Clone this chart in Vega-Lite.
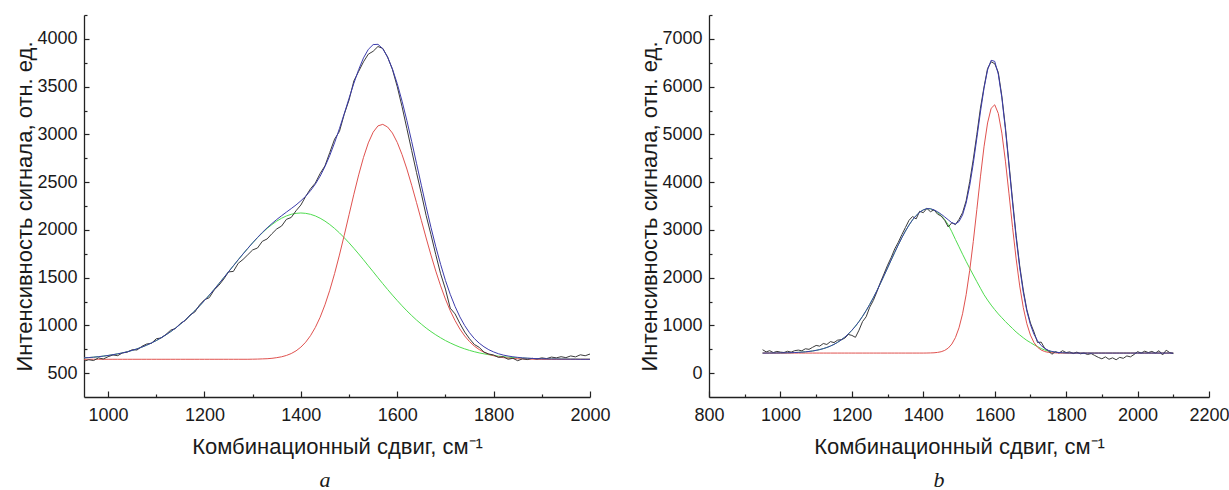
{
"$schema": "https://vega.github.io/schema/vega-lite/v6.json",
"padding": {"left": 13, "top": 14, "right": 0, "bottom": 0},
"background": "white",
"spacing": 27,
"config": {
  "view": {"stroke": null},
  "font": "Liberation Sans",
  "axis": {"grid": false, "domainColor": "#222222", "domainWidth": 1.3, "tickColor": "#222222", "tickWidth": 1.2, "labelFont": "Liberation Sans", "labelFontSize": 18, "labelColor": "#1a1a1a", "labelFlush": false, "labelOverlap": false, "titleFont": "Liberation Sans", "titleFontSize": 22, "titleFontWeight": "normal", "titleColor": "#1a1a1a"},
  "line": {"strokeWidth": 1}
},
"datasets": {
"a": [
{"x":950,"e":625,"f":660,"g":660,"r":645},{"x":960,"e":640,"f":663,"g":663,"r":645},{"x":970,"e":632,"f":667,"g":667,"r":645},{"x":980,"e":660,"f":672,"g":672,"r":645},{"x":990,"e":648,"f":678,"g":678,"r":645},
{"x":1000,"e":672,"f":685,"g":685,"r":645},{"x":1010,"e":690,"f":693,"g":693,"r":645},{"x":1020,"e":683,"f":702,"g":702,"r":645},{"x":1030,"e":712,"f":712,"g":712,"r":645},{"x":1040,"e":720,"f":724,"g":724,"r":645},
{"x":1050,"e":745,"f":738,"g":738,"r":645},{"x":1060,"e":742,"f":754,"g":754,"r":645},{"x":1070,"e":780,"f":772,"g":772,"r":645},{"x":1080,"e":805,"f":793,"g":793,"r":645},{"x":1090,"e":812,"f":816,"g":816,"r":645},
{"x":1100,"e":860,"f":841,"g":841,"r":645},{"x":1110,"e":868,"f":870,"g":870,"r":645},{"x":1120,"e":905,"f":901,"g":901,"r":645},{"x":1130,"e":950,"f":935,"g":935,"r":645},{"x":1140,"e":968,"f":972,"g":972,"r":645},
{"x":1150,"e":1020,"f":1013,"g":1013,"r":645},{"x":1160,"e":1050,"f":1056,"g":1056,"r":645},{"x":1170,"e":1108,"f":1103,"g":1103,"r":645},{"x":1180,"e":1140,"f":1152,"g":1152,"r":645},{"x":1190,"e":1215,"f":1205,"g":1205,"r":645},
{"x":1200,"e":1268,"f":1260,"g":1260,"r":645},{"x":1210,"e":1290,"f":1317,"g":1317,"r":645},{"x":1220,"e":1370,"f":1376,"g":1376,"r":645},{"x":1230,"e":1420,"f":1437,"g":1437,"r":645},{"x":1240,"e":1485,"f":1499,"g":1499,"r":645},
{"x":1250,"e":1560,"f":1562,"g":1562,"r":645},{"x":1260,"e":1565,"f":1624,"g":1624,"r":645},{"x":1270,"e":1650,"f":1687,"g":1687,"r":645},{"x":1280,"e":1690,"f":1748,"g":1748,"r":645},{"x":1290,"e":1740,"f":1807,"g":1807,"r":645},
{"x":1300,"e":1790,"f":1865,"g":1864,"r":646},{"x":1310,"e":1810,"f":1920,"g":1918,"r":647},{"x":1320,"e":1880,"f":1973,"g":1969,"r":649},{"x":1330,"e":1905,"f":2021,"g":2015,"r":651},{"x":1340,"e":1960,"f":2066,"g":2056,"r":655},
{"x":1350,"e":2010,"f":2109,"g":2092,"r":662},{"x":1360,"e":2040,"f":2148,"g":2122,"r":671},{"x":1370,"e":2110,"f":2186,"g":2146,"r":685},{"x":1380,"e":2130,"f":2223,"g":2163,"r":705},{"x":1390,"e":2200,"f":2261,"g":2173,"r":733},
{"x":1400,"e":2260,"f":2304,"g":2177,"r":772},{"x":1410,"e":2350,"f":2352,"g":2173,"r":824},{"x":1420,"e":2430,"f":2410,"g":2163,"r":892},{"x":1430,"e":2490,"f":2479,"g":2146,"r":978},{"x":1440,"e":2590,"f":2562,"g":2122,"r":1085},
{"x":1450,"e":2670,"f":2662,"g":2092,"r":1215},{"x":1460,"e":2810,"f":2779,"g":2056,"r":1368},{"x":1470,"e":2950,"f":2912,"g":2015,"r":1542},{"x":1480,"e":3030,"f":3060,"g":1969,"r":1736},{"x":1490,"e":3210,"f":3216,"g":1918,"r":1943},
{"x":1500,"e":3360,"f":3378,"g":1864,"r":2159},{"x":1510,"e":3560,"f":3535,"g":1807,"r":2373},{"x":1520,"e":3660,"f":3679,"g":1748,"r":2576},{"x":1530,"e":3760,"f":3801,"g":1687,"r":2759},{"x":1540,"e":3840,"f":3890,"g":1624,"r":2911},
{"x":1550,"e":3870,"f":3940,"g":1562,"r":3023},{"x":1560,"e":3920,"f":3943,"g":1499,"r":3089},{"x":1570,"e":3900,"f":3897,"g":1437,"r":3105},{"x":1580,"e":3810,"f":3808,"g":1376,"r":3077},{"x":1590,"e":3680,"f":3686,"g":1317,"r":3014},
{"x":1600,"e":3500,"f":3531,"g":1260,"r":2916},{"x":1610,"e":3290,"f":3348,"g":1205,"r":2788},{"x":1620,"e":3060,"f":3144,"g":1152,"r":2637},{"x":1630,"e":2830,"f":2925,"g":1103,"r":2467},{"x":1640,"e":2600,"f":2697,"g":1056,"r":2286},
{"x":1650,"e":2380,"f":2468,"g":1013,"r":2100},{"x":1660,"e":2150,"f":2242,"g":972,"r":1915},{"x":1670,"e":1950,"f":2026,"g":935,"r":1736},{"x":1680,"e":1740,"f":1824,"g":901,"r":1568},{"x":1690,"e":1540,"f":1639,"g":870,"r":1414},
{"x":1700,"e":1380,"f":1471,"g":841,"r":1275},{"x":1710,"e":1180,"f":1325,"g":816,"r":1154},{"x":1720,"e":1120,"f":1198,"g":793,"r":1050},{"x":1730,"e":1020,"f":1089,"g":772,"r":962},{"x":1740,"e":930,"f":998,"g":754,"r":889},
{"x":1750,"e":860,"f":923,"g":738,"r":830},{"x":1760,"e":800,"f":862,"g":724,"r":783},{"x":1770,"e":770,"f":814,"g":712,"r":747},{"x":1780,"e":720,"f":776,"g":702,"r":719},{"x":1790,"e":700,"f":745,"g":693,"r":697},
{"x":1800,"e":690,"f":722,"g":685,"r":682},{"x":1810,"e":665,"f":703,"g":678,"r":670},{"x":1820,"e":672,"f":689,"g":672,"r":662},{"x":1830,"e":645,"f":679,"g":667,"r":657},{"x":1840,"e":655,"f":671,"g":663,"r":653},
{"x":1850,"e":630,"f":665,"g":660,"r":650},{"x":1860,"e":650,"f":660,"g":657,"r":648},{"x":1870,"e":642,"f":657,"g":655,"r":647},{"x":1880,"e":655,"f":654,"g":653,"r":646},{"x":1890,"e":648,"f":651,"g":651,"r":645},
{"x":1900,"e":660,"f":650,"g":650,"r":645},{"x":1910,"e":652,"f":649,"g":649,"r":645},{"x":1920,"e":668,"f":648,"g":648,"r":645},{"x":1930,"e":660,"f":648,"g":648,"r":645},{"x":1940,"e":672,"f":647,"g":647,"r":645},
{"x":1950,"e":662,"f":647,"g":647,"r":645},{"x":1960,"e":680,"f":646,"g":646,"r":645},{"x":1970,"e":670,"f":646,"g":646,"r":645},{"x":1980,"e":692,"f":645,"g":645,"r":645},{"x":1990,"e":682,"f":645,"g":645,"r":645},
{"x":2000,"e":700,"f":645,"g":645,"r":645}
],
"b": [
{"x":950,"e":490,"f":420,"g":420,"r":420},{"x":960,"e":445,"f":420,"g":420,"r":420},{"x":970,"e":470,"f":421,"g":421,"r":420},{"x":980,"e":430,"f":421,"g":421,"r":420},{"x":990,"e":455,"f":422,"g":422,"r":420},
{"x":1000,"e":440,"f":423,"g":423,"r":420},{"x":1010,"e":432,"f":424,"g":424,"r":420},{"x":1020,"e":458,"f":426,"g":426,"r":420},{"x":1030,"e":440,"f":428,"g":428,"r":420},{"x":1040,"e":470,"f":431,"g":431,"r":420},
{"x":1050,"e":482,"f":435,"g":435,"r":420},{"x":1060,"e":468,"f":440,"g":440,"r":420},{"x":1070,"e":510,"f":446,"g":446,"r":420},{"x":1080,"e":498,"f":454,"g":454,"r":420},{"x":1090,"e":540,"f":464,"g":464,"r":420},
{"x":1100,"e":580,"f":477,"g":477,"r":420},{"x":1110,"e":565,"f":493,"g":493,"r":420},{"x":1120,"e":620,"f":513,"g":513,"r":420},{"x":1130,"e":600,"f":537,"g":537,"r":420},{"x":1140,"e":660,"f":567,"g":567,"r":420},
{"x":1150,"e":640,"f":602,"g":602,"r":420},{"x":1160,"e":690,"f":645,"g":645,"r":420},{"x":1170,"e":700,"f":694,"g":694,"r":420},{"x":1180,"e":730,"f":752,"g":752,"r":420},{"x":1190,"e":810,"f":819,"g":819,"r":420},
{"x":1200,"e":790,"f":896,"g":896,"r":420},{"x":1210,"e":750,"f":983,"g":983,"r":420},{"x":1220,"e":900,"f":1081,"g":1081,"r":420},{"x":1230,"e":1080,"f":1190,"g":1190,"r":420},{"x":1240,"e":1180,"f":1309,"g":1309,"r":420},
{"x":1250,"e":1380,"f":1439,"g":1439,"r":420},{"x":1260,"e":1520,"f":1577,"g":1577,"r":420},{"x":1270,"e":1700,"f":1725,"g":1725,"r":420},{"x":1280,"e":1900,"f":1880,"g":1880,"r":420},{"x":1290,"e":2080,"f":2040,"g":2040,"r":420},
{"x":1300,"e":2260,"f":2203,"g":2203,"r":420},{"x":1310,"e":2420,"f":2367,"g":2367,"r":420},{"x":1320,"e":2600,"f":2529,"g":2529,"r":420},{"x":1330,"e":2740,"f":2686,"g":2686,"r":420},{"x":1340,"e":2900,"f":2836,"g":2836,"r":420},
{"x":1350,"e":3050,"f":2975,"g":2975,"r":420},{"x":1360,"e":3200,"f":3101,"g":3101,"r":420},{"x":1370,"e":3280,"f":3210,"g":3210,"r":420},{"x":1380,"e":3230,"f":3301,"g":3301,"r":420},{"x":1390,"e":3390,"f":3371,"g":3371,"r":420},
{"x":1400,"e":3360,"f":3419,"g":3419,"r":420},{"x":1410,"e":3450,"f":3445,"g":3444,"r":421},{"x":1420,"e":3380,"f":3443,"g":3440,"r":423},{"x":1430,"e":3420,"f":3418,"g":3412,"r":426},{"x":1440,"e":3330,"f":3379,"g":3365,"r":434},
{"x":1450,"e":3290,"f":3328,"g":3300,"r":448},{"x":1460,"e":3200,"f":3271,"g":3215,"r":476},{"x":1470,"e":3060,"f":3210,"g":3105,"r":525},{"x":1480,"e":3150,"f":3149,"g":2960,"r":609},{"x":1490,"e":3110,"f":3124,"g":2800,"r":744},
{"x":1500,"e":3220,"f":3174,"g":2645,"r":949},{"x":1510,"e":3360,"f":3313,"g":2490,"r":1243},{"x":1520,"e":3610,"f":3563,"g":2340,"r":1643},{"x":1530,"e":4010,"f":3926,"g":2195,"r":2151},{"x":1540,"e":4480,"f":4392,"g":2055,"r":2757},
{"x":1550,"e":5000,"f":4922,"g":1915,"r":3427},{"x":1560,"e":5550,"f":5468,"g":1778,"r":4110},{"x":1570,"e":5990,"f":5962,"g":1643,"r":4739},{"x":1580,"e":6380,"f":6349,"g":1530,"r":5239},{"x":1590,"e":6520,"f":6551,"g":1425,"r":5546},
{"x":1600,"e":6480,"f":6530,"g":1330,"r":5620},{"x":1610,"e":6300,"f":6259,"g":1240,"r":5439},{"x":1620,"e":5800,"f":5766,"g":1160,"r":5026},{"x":1630,"e":5150,"f":5099,"g":1080,"r":4439},{"x":1640,"e":4380,"f":4339,"g":1005,"r":3754},
{"x":1650,"e":3620,"f":3565,"g":935,"r":3050},{"x":1660,"e":2880,"f":2832,"g":860,"r":2392},{"x":1670,"e":2250,"f":2206,"g":800,"r":1826},{"x":1680,"e":1740,"f":1693,"g":740,"r":1373},{"x":1690,"e":1330,"f":1299,"g":685,"r":1034},
{"x":1700,"e":1050,"f":1016,"g":640,"r":796},{"x":1710,"e":860,"f":813,"g":594,"r":639},{"x":1720,"e":640,"f":676,"g":555,"r":541},{"x":1730,"e":650,"f":579,"g":515,"r":484},{"x":1740,"e":520,"f":517,"g":485,"r":452},
{"x":1750,"e":470,"f":477,"g":462,"r":435},{"x":1760,"e":395,"f":454,"g":447,"r":427},{"x":1770,"e":450,"f":440,"g":437,"r":423},{"x":1780,"e":420,"f":431,"g":430,"r":421},{"x":1790,"e":470,"f":426,"g":426,"r":420},
{"x":1800,"e":430,"f":423,"g":423,"r":420},{"x":1810,"e":445,"f":421,"g":421,"r":420},{"x":1820,"e":410,"f":420,"g":420,"r":420},{"x":1830,"e":440,"f":420,"g":420,"r":420},{"x":1840,"e":405,"f":420,"g":420,"r":420},
{"x":1850,"e":420,"f":420,"g":420,"r":420},{"x":1860,"e":390,"f":420,"g":420,"r":420},{"x":1870,"e":410,"f":420,"g":420,"r":420},{"x":1880,"e":370,"f":420,"g":420,"r":420},{"x":1890,"e":330,"f":420,"g":420,"r":420},
{"x":1900,"e":300,"f":420,"g":420,"r":420},{"x":1910,"e":340,"f":420,"g":420,"r":420},{"x":1920,"e":290,"f":420,"g":420,"r":420},{"x":1930,"e":320,"f":420,"g":420,"r":420},{"x":1940,"e":280,"f":420,"g":420,"r":420},
{"x":1950,"e":330,"f":420,"g":420,"r":420},{"x":1960,"e":310,"f":420,"g":420,"r":420},{"x":1970,"e":360,"f":420,"g":420,"r":420},{"x":1980,"e":340,"f":420,"g":420,"r":420},{"x":1990,"e":390,"f":420,"g":420,"r":420},
{"x":2000,"e":450,"f":420,"g":420,"r":420},{"x":2010,"e":420,"f":420,"g":420,"r":420},{"x":2020,"e":460,"f":420,"g":420,"r":420},{"x":2030,"e":430,"f":420,"g":420,"r":420},{"x":2040,"e":455,"f":420,"g":420,"r":420},
{"x":2050,"e":420,"f":420,"g":420,"r":420},{"x":2060,"e":470,"f":420,"g":420,"r":420},{"x":2070,"e":380,"f":420,"g":420,"r":420},{"x":2080,"e":480,"f":420,"g":420,"r":420},{"x":2090,"e":430,"f":420,"g":420,"r":420},
{"x":2100,"e":410,"f":420,"g":420,"r":420}
]
},
"hconcat": [
{
  "width": 506, "height": 382,
  "data": {"name": "a"},
  "title": {"text": "a", "orient": "bottom", "font": "Liberation Serif", "fontStyle": "italic", "fontWeight": "normal", "fontSize": 22, "offset": 13, "dx": -12, "frame": "group", "anchor": "middle", "color": "#1a1a1a"},
  "resolve": {"axis": {"x": "independent", "y": "independent"}},
  "layer": [
    {"mark": {"type": "line", "color": "#4fdc4f"},
     "encoding": {
       "x": {"field": "x", "type": "quantitative", "scale": {"domain": [950, 2000], "nice": false, "zero": false},
             "axis": {"orient": "bottom", "values": [1000, 1200, 1400, 1600, 1800, 2000], "format": "d", "tickSize": -6, "labelPadding": 15, "title": "Комбинационный сдвиг, см⁻¹", "titlePadding": 12}},
       "y": {"field": "g", "type": "quantitative", "scale": {"domain": [250, 4250], "nice": false, "zero": false},
             "axis": {"orient": "left", "values": [500, 1000, 1500, 2000, 2500, 3000, 3500, 4000], "format": "d", "tickSize": -5, "labelPadding": 12, "title": "Интенсивность сигнала, отн. ед.", "titlePadding": 0}}}},
    {"mark": {"type": "line", "color": "#e0524f"},
     "encoding": {
       "x": {"field": "x", "type": "quantitative", "axis": {"orient": "bottom", "values": [1100, 1300, 1500, 1700, 1900], "tickSize": -3, "labels": false, "domain": false, "title": null}},
       "y": {"field": "r", "type": "quantitative", "axis": {"orient": "left", "values": [750, 1250, 1750, 2250, 2750, 3250, 3750, 4250], "tickSize": -3, "labels": false, "domain": false, "title": null}}}},
    {"mark": {"type": "line", "color": "#3a3a3a"},
     "encoding": {"x": {"field": "x", "type": "quantitative", "axis": null}, "y": {"field": "e", "type": "quantitative", "axis": null}}},
    {"mark": {"type": "line", "color": "#3c3cac"},
     "encoding": {"x": {"field": "x", "type": "quantitative", "axis": null}, "y": {"field": "f", "type": "quantitative", "axis": null}}}
  ]
},
{
  "width": 500, "height": 382,
  "data": {"name": "b"},
  "title": {"text": "b", "orient": "bottom", "font": "Liberation Serif", "fontStyle": "italic", "fontWeight": "normal", "fontSize": 22, "offset": 13, "dx": -20, "frame": "group", "anchor": "middle", "color": "#1a1a1a"},
  "resolve": {"axis": {"x": "independent", "y": "independent"}},
  "layer": [
    {"mark": {"type": "line", "color": "#4fdc4f"},
     "encoding": {
       "x": {"field": "x", "type": "quantitative", "scale": {"domain": [800, 2200], "nice": false, "zero": false},
             "axis": {"orient": "bottom", "values": [800, 1000, 1200, 1400, 1600, 1800, 2000, 2200], "format": "d", "tickSize": -6, "labelPadding": 15, "title": "Комбинационный сдвиг, см⁻¹", "titlePadding": 12}},
       "y": {"field": "g", "type": "quantitative", "scale": {"domain": [-500, 7500], "nice": false, "zero": false},
             "axis": {"orient": "left", "values": [0, 1000, 2000, 3000, 4000, 5000, 6000, 7000], "format": "d", "tickSize": -5, "labelPadding": 12, "title": "Интенсивность сигнала, отн. ед.", "titlePadding": 0}}}},
    {"mark": {"type": "line", "color": "#e0524f"},
     "encoding": {
       "x": {"field": "x", "type": "quantitative", "axis": {"orient": "bottom", "values": [900, 1100, 1300, 1500, 1700, 1900, 2100], "tickSize": -3, "labels": false, "domain": false, "title": null}},
       "y": {"field": "r", "type": "quantitative", "axis": {"orient": "left", "values": [500, 1500, 2500, 3500, 4500, 5500, 6500, 7500], "tickSize": -3, "labels": false, "domain": false, "title": null}}}},
    {"mark": {"type": "line", "color": "#3a3a3a"},
     "encoding": {"x": {"field": "x", "type": "quantitative", "axis": null}, "y": {"field": "e", "type": "quantitative", "axis": null}}},
    {"mark": {"type": "line", "color": "#3c3cac"},
     "encoding": {"x": {"field": "x", "type": "quantitative", "axis": null}, "y": {"field": "f", "type": "quantitative", "axis": null}}}
  ]
}
]
}
